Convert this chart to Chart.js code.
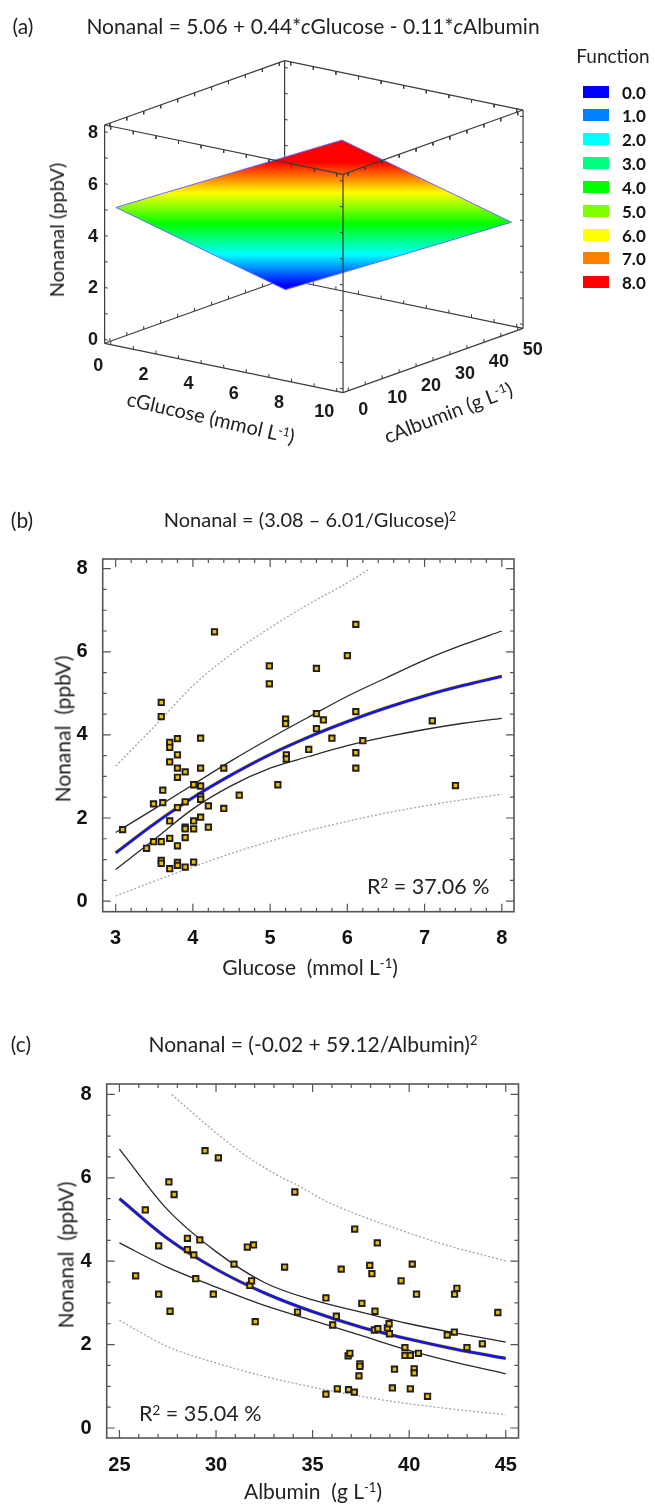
<!DOCTYPE html>
<html><head><meta charset="utf-8">
<script src="https://cdn.jsdelivr.net/npm/chart.js@4.4.1/dist/chart.umd.min.js"></script>
<style>
body{margin:0;background:#fff;width:655px;height:1504px;position:relative;overflow:hidden;font-family:Lato,'Open Sans',sans-serif;color:#222}
.t{position:absolute;white-space:nowrap;transform:translate(-50%,-50%);line-height:1}
.l{position:absolute;white-space:nowrap;transform:translate(0,-50%);line-height:1}
sup{font-size:0.62em;vertical-align:0.5em;line-height:0}
canvas{position:absolute;left:0}
.sw{position:absolute;left:583px;width:26px;height:12px;transform:translate(0,-50%)}
.lg{position:absolute;left:622px;font-weight:bold;font-size:17px;transform:translate(0,-50%);line-height:1;color:#111}
</style></head><body>
<canvas id="ca" width="655" height="480" style="top:0"></canvas>
<canvas id="cb" width="655" height="520" style="top:480px"></canvas>
<canvas id="cc" width="655" height="504" style="top:1000px"></canvas>

<div class="t" style="left:23px;top:25px;font-size:21px">(a)</div>
<div class="t" style="left:313px;top:25px;font-size:21px">Nonanal = 5.06 + 0.44*<i>c</i>Glucose - 0.11*<i>c</i>Albumin</div>
<div class="t" style="left:613px;top:55px;font-size:19px">Function</div>
<div id="legend"></div>
<div class="t" style="left:56px;top:230px;font-size:20px;transform:translate(-50%,-50%) rotate(-90deg)">Nonanal (ppbV)</div>
<div class="t" style="left:211px;top:417px;font-size:20px;transform:translate(-50%,-50%) rotate(13deg)">cGlucose (mmol L<sup>-1</sup>)</div>
<div class="t" style="left:448px;top:412px;font-size:20px;transform:translate(-50%,-50%) rotate(-21deg)">cAlbumin (g L<sup>-1</sup>)</div>

<div class="t" style="left:22px;top:519px;font-size:21px">(b)</div>
<div class="t" style="left:310px;top:519px;font-size:20px">Nonanal = (3.08 – 6.01/Glucose)<sup>2</sup></div>
<div class="t" style="left:62px;top:729px;font-size:21px;transform:translate(-50%,-50%) rotate(-90deg)">Nonanal&nbsp; (ppbV)</div>
<div class="t" style="left:310px;top:966px;font-size:21px">Glucose&nbsp; (mmol L<sup>-1</sup>)</div>
<div class="l" style="left:367px;top:887px;font-size:21.5px">R<sup>2</sup> = 37.06 %</div>

<div class="t" style="left:21px;top:1043px;font-size:21px">(c)</div>
<div class="t" style="left:313px;top:1043px;font-size:21px">Nonanal = (-0.02 + 59.12/Albumin)<sup>2</sup></div>
<div class="t" style="left:65px;top:1255px;font-size:21px;transform:translate(-50%,-50%) rotate(-90deg)">Nonanal&nbsp; (ppbV)</div>
<div class="t" style="left:313px;top:1490px;font-size:21px">Albumin&nbsp; (g L<sup>-1</sup>)</div>
<div class="l" style="left:139px;top:1414px;font-size:21.5px">R<sup>2</sup> = 35.04 %</div>

<script>
// ================= DATA =================
// (a) 3-D response surface
const legendValues = ['0.0','1.0','2.0','3.0','4.0','5.0','6.0','7.0','8.0'];
const legendLevels = [0,1,2,3,4,5,6,7,8];
const legendColors = ['#0000ff','#0080ff','#00ffff','#00ff80','#00ff00','#80ff00','#ffff00','#ff8000','#ff0000'];
const aGlucoseTicks = [0,2,4,6,8,10];
const aAlbuminTicks = [0,10,20,30,40,50];
const aNonanalTicks = [0,2,4,6,8];
const aGlucoseRange = [-0.27, 10.28];
const aAlbuminRange = [-1.55, 51.55];
const aNonanalRange = [-0.15, 8.26];
const surfaceGlucose = [0, 10, 10, 0];
const surfaceAlbumin = [0, 0, 50, 50];
const surfaceNonanal = [5.06, 9.46, 3.96, -0.44];

// (b) Glucose
const bGlucose = [3.09,3.40,3.49,3.49,3.59,3.59,3.61,3.61,3.59,3.59,3.59,3.70,3.70,3.70,3.70,3.70,3.70,3.80,3.80,3.80,3.80,3.80,3.80,3.80,3.80,3.90,3.90,3.90,3.90,3.90,3.90,4.01,4.01,4.01,4.01,4.10,4.10,4.10,4.10,4.10,4.10,4.20,4.20,4.28,4.40,4.40,4.60,4.99,4.99,5.10,5.20,5.20,5.21,5.21,5.50,5.60,5.60,5.60,5.69,5.80,6.00,6.11,6.11,6.11,6.11,6.20,7.10,7.40];
const bNonanal = [1.72,1.27,2.34,1.43,4.78,4.44,2.67,2.37,1.43,0.98,0.91,3.82,3.70,3.35,1.93,1.51,0.78,3.91,3.52,3.20,2.98,2.25,1.33,0.93,0.86,3.11,2.39,1.78,1.74,1.53,0.82,2.80,1.93,1.74,0.94,3.92,3.20,2.77,2.52,2.45,2.02,2.29,1.78,6.48,3.20,2.23,2.55,5.66,5.23,2.80,4.38,4.27,3.52,3.42,3.65,5.60,4.51,4.15,4.36,3.92,5.91,6.66,4.56,3.57,3.20,3.86,4.34,2.78];
const bCurveX   = [3.0,3.5,4.0,4.5,5.0,5.5,6.0,6.5,7.0,7.5,8.0];
const bFit      = [1.16,1.86,2.49,3.04,3.53,3.95,4.32,4.65,4.94,5.19,5.41];
const bUpperCI  = [1.65,2.22,2.80,3.38,3.92,4.43,4.93,5.37,5.80,6.17,6.50];
const bLowerCI  = [0.76,1.48,2.22,2.78,3.20,3.48,3.74,3.95,4.13,4.28,4.40];
const bLowerPI  = [0.12,0.48,0.82,1.15,1.44,1.70,1.92,2.12,2.29,2.44,2.57];
const bUpperPIX = [3.0,3.5,4.0,4.5,5.0,5.5,6.0,6.29];
const bUpperPI  = [3.25,4.20,5.18,5.95,6.58,7.15,7.66,8.0];
const bXTicks = [3,4,5,6,7,8];
const nonanalTicks = [0,2,4,6,8];

// (c) Albumin
const cAlbumin = [25.84,26.34,27.03,27.03,27.56,27.62,27.83,28.52,28.52,28.85,28.95,29.16,29.43,29.86,30.12,30.93,31.62,31.75,31.84,31.94,32.03,33.55,34.08,34.22,35.69,35.69,36.04,36.23,36.28,36.48,36.84,36.93,36.86,37.18,37.16,37.40,37.45,37.45,37.55,37.96,38.07,38.20,38.23,38.35,38.38,38.87,38.96,38.98,39.13,39.24,39.58,39.78,39.78,40.06,40.06,40.16,40.26,40.26,40.38,40.48,40.95,41.97,42.35,42.34,42.47,42.99,43.79,44.59];
const cNonanal = [3.65,5.23,4.37,3.21,5.90,2.80,5.60,4.55,4.28,4.15,3.58,4.51,6.65,3.21,6.48,3.93,4.34,3.42,3.53,4.39,2.55,3.86,5.66,2.78,3.12,0.81,2.47,2.68,0.94,3.81,1.73,1.79,0.92,4.77,0.86,1.25,1.54,1.48,2.99,3.90,3.70,2.35,2.80,4.44,2.38,2.40,2.50,2.26,0.96,1.41,3.53,1.93,1.74,1.74,0.94,3.93,1.42,1.32,3.21,1.79,0.76,2.23,3.21,2.30,3.35,1.93,2.02,2.77];
const cCurveX   = [25,27.5,30,32.5,35,37.5,40,42.5,45];
const cFit      = [5.50,4.54,3.81,3.24,2.79,2.42,2.13,1.88,1.67];
const cUpperCI  = [6.69,5.23,4.23,3.49,3.07,2.78,2.50,2.27,2.06];
const cLowerCI  = [4.44,3.85,3.38,2.94,2.58,2.22,1.86,1.56,1.30];
const cLowerPI  = [2.58,1.95,1.56,1.24,0.98,0.76,0.58,0.44,0.32];
const cUpperPIX = [27.71,29.43,31.24,33.14,34.35,35.55,36.94,39.52,42.11,45.0];
const cUpperPI  = [8.0,7.30,6.63,6.07,5.79,5.47,5.19,4.75,4.36,4.01];
const cXTicks = [25,30,35,40,45];

// ================= LEGEND (a) =================
const lgEl = document.getElementById('legend');
legendValues.forEach((v,i)=>{
  const y = 91.5 + i*23.85;
  lgEl.insertAdjacentHTML('beforeend',
    `<div class="sw" style="top:${y}px;background:${legendColors[i]}"></div><div class="lg" style="top:${y}px">${v}</div>`);
});

const pts = (xs, ys) => xs.map((x,i)=>({x:x, y:ys[i]}));

// ================= PANEL (a) 3-D =================
const V = {ox:115.95, oy:338.8, gx:22.6, gy:4.68, ax:3.39, ay:-1.211, zy:-25.96, W:655, H:480};
function P(g,a,z){ return {x: g*V.gx + a*V.ax, y: -(g*V.gy + a*V.ay + z*V.zy)}; }
const G0=aGlucoseRange[0], G1=aGlucoseRange[1], A0=aAlbuminRange[0], A1=aAlbuminRange[1], Z0=aNonanalRange[0], Z1=aNonanalRange[1];
const edge = (p,q)=>[P(...p),P(...q)];
const backEdges = [
  edge([G0,A0,Z1],[G0,A1,Z1]), edge([G0,A1,Z1],[G1,A1,Z1]), edge([G0,A1,Z0],[G0,A1,Z1]),
  edge([G0,A0,Z0],[G0,A1,Z0]), edge([G0,A1,Z0],[G1,A1,Z0])
];
const frontEdges = [
  edge([G0,A0,Z1],[G1,A0,Z1]), edge([G1,A0,Z1],[G1,A1,Z1]),
  edge([G0,A0,Z0],[G0,A0,Z1]), edge([G1,A0,Z0],[G1,A0,Z1]), edge([G1,A1,Z0],[G1,A1,Z1]),
  edge([G0,A0,Z0],[G1,A0,Z0]), edge([G1,A0,Z0],[G1,A1,Z0])
];
function tickSegs(list){
  const out=[];
  list.forEach(([p,q])=>{ out.push(P(...p)); out.push(P(...q)); out.push({x:null,y:null}); });
  return out;
}
const tz=0.13, tg=0.14;
const backT=[], frontT=[];
for(let g=0; g<=10; g++){
  backT.push([[g,A1,Z1],[g,A1,Z1-tz]]); backT.push([[g,A1,Z0],[g,A1,Z0+tz]]);
  frontT.push([[g,A0,Z1],[g,A0,Z1-tz]]); frontT.push([[g,A0,Z0],[g,A0,Z0+tz]]);
}
for(let a=0; a<=50; a+=5){
  backT.push([[G0,a,Z1],[G0,a,Z1-tz]]); backT.push([[G0,a,Z0],[G0,a,Z0+tz]]);
  frontT.push([[G1,a,Z1],[G1,a,Z1-tz]]); frontT.push([[G1,a,Z0],[G1,a,Z0+tz]]);
}
for(let z=0; z<=8; z++){
  backT.push([[G0,A1,z],[G0+tg,A1,z]]);
  frontT.push([[G0,A0,z],[G0+tg,A0,z]]); frontT.push([[G1,A0,z],[G1-tg,A0,z]]); frontT.push([[G1,A1,z],[G1-tg,A1,z]]);
}
const surfPts = surfaceGlucose.map((g,i)=>P(g, surfaceAlbumin[i], surfaceNonanal[i]));
surfPts.push(surfPts[0]);

const lineDs = (data, color, width, order) => ({data, showLine:true, pointRadius:0, borderColor:color, borderWidth:width, order, tension:0, spanGaps:false});
const dsA = [];
frontEdges.forEach(e=>dsA.push(lineDs(e,'#3c3c3c',1.2,0)));
dsA.push(lineDs(tickSegs(frontT),'#3c3c3c',1,0));
const surfDs = lineDs(surfPts,'#6a6aff',1,1); surfDs.isSurface = true; dsA.push(surfDs);
backEdges.forEach(e=>dsA.push(lineDs(e,'#3c3c3c',1.2,2)));
dsA.push(lineDs(tickSegs(backT),'#3c3c3c',1,2));

const surfacePlugin = {
  id:'surfaceFill',
  beforeDatasetDraw(chart, args){
    const ds = chart.data.datasets[args.index];
    if(!ds.isSurface) return;
    const pts = args.meta.data, c = chart.ctx;
    const yL = pts[0].y, yT = pts[1].y, zL = surfaceNonanal[0], zT = surfaceNonanal[1];
    const yOf = z => yL + (z - zL)*(yT - yL)/(zT - zL);
    const lo = legendLevels[0], hi = legendLevels[legendLevels.length-1];
    const grad = c.createLinearGradient(0, yOf(lo), 0, yOf(hi));
    legendColors.forEach((col,i)=>grad.addColorStop((legendLevels[i]-lo)/(hi-lo), col));
    c.save();
    c.beginPath();
    c.moveTo(pts[0].x, pts[0].y);
    for(let i=1;i<pts.length;i++) c.lineTo(pts[i].x, pts[i].y);
    c.closePath();
    c.fillStyle = grad; c.fill();
    c.restore();
  }
};
const labels3D = {
  id:'labels3D',
  afterDatasetsDraw(chart){
    const c = chart.ctx, sx = chart.scales.x, sy = chart.scales.y;
    const px = p => [sx.getPixelForValue(p.x), sy.getPixelForValue(p.y)];
    c.save();
    c.font = 'bold 18px "Liberation Sans", Arial, sans-serif';
    c.fillStyle = '#1a1a1a'; c.textAlign='center'; c.textBaseline='middle';
    aNonanalTicks.forEach(z=>{ const [x,y]=px(P(G0,A0,z)); c.fillText(String(z), x-11.5, y+1); });
    aGlucoseTicks.forEach(g=>{ const [x,y]=px(P(g,A0,Z0)); c.fillText(String(g), x-12.5, y+21); });
    aAlbuminTicks.forEach(a=>{ const [x,y]=px(P(G1,a,Z0)); c.fillText(String(a), x+15, y+19.5); });
    c.restore();
  }
};
new Chart(document.getElementById('ca'), {
  type:'scatter',
  data:{datasets:dsA},
  options:{responsive:false, animation:false, events:[],
    layout:{padding:0},
    plugins:{legend:{display:false}, tooltip:{enabled:false}},
    scales:{
      x:{type:'linear', display:false, min:-V.ox, max:V.W-V.ox},
      y:{type:'linear', display:false, min:V.oy-V.H, max:V.oy}
    }
  },
  plugins:[surfacePlugin, labels3D]
});

// ================= PANELS (b) & (c) =================
const framePlugin = {
  id:'frameTicks',
  afterDatasetsDraw(chart, args, o){
    const c = chart.ctx, a = chart.chartArea, sx = chart.scales.x, sy = chart.scales.y;
    c.save();
    c.strokeStyle = '#555'; c.lineWidth = 1.2;
    const tick = (v, len, isX) => {
      if(isX){ const x = sx.getPixelForValue(v);
        c.moveTo(x, a.bottom); c.lineTo(x, a.bottom-len); c.moveTo(x, a.top); c.lineTo(x, a.top+len); }
      else { const y = sy.getPixelForValue(v);
        c.moveTo(a.left, y); c.lineTo(a.left+len, y); c.moveTo(a.right, y); c.lineTo(a.right-len, y); }
    };
    c.beginPath();
    for(let v=o.xFrom; v<=o.xTo+1e-9; v+=o.xMinor){ const r=Math.round(v*1000)/1000; tick(r, o.xMajors.includes(r)?8:4, true); }
    for(let v=o.yFrom; v<=o.yTo+1e-9; v+=o.yMinor){ const r=Math.round(v*1000)/1000; tick(r, o.yMajors.includes(r)?8:4, false); }
    c.stroke();
    c.strokeStyle = '#555'; c.lineWidth = 1.6;
    c.strokeRect(a.left, a.top, a.right-a.left, a.bottom-a.top);
    c.restore();
  }
};
function panel2D(id, d){
  const tickFont = {family:'"Liberation Sans", Arial, sans-serif', weight:'bold', size:20};
  new Chart(document.getElementById(id), {
    type:'scatter',
    data:{datasets:[
      {data:pts(d.px,d.py), pointStyle:'rect', pointRadius:3.8, borderWidth:1.9, borderColor:'#1e1e1e', backgroundColor:'#f0be00', order:0},
      {data:pts(d.cx,d.fit), showLine:true, pointRadius:0, borderColor:'#1414ee', borderWidth:2.8, cubicInterpolationMode:'monotone', order:1},
      {data:pts(d.cx,d.fit), showLine:true, pointRadius:0, borderColor:'#e9d200', borderWidth:3.8, cubicInterpolationMode:'monotone', order:2},
      {data:pts(d.cx,d.ucl), showLine:true, pointRadius:0, borderColor:'#2a2a2a', borderWidth:1.3, cubicInterpolationMode:'monotone', order:3},
      {data:pts(d.cx,d.lcl), showLine:true, pointRadius:0, borderColor:'#2a2a2a', borderWidth:1.3, cubicInterpolationMode:'monotone', order:3},
      {data:pts(d.upx,d.upl), showLine:true, pointRadius:0, borderColor:'#a5a5a5', borderWidth:1.3, borderDash:[2,2], cubicInterpolationMode:'monotone', order:4},
      {data:pts(d.cx,d.lpl), showLine:true, pointRadius:0, borderColor:'#a5a5a5', borderWidth:1.3, borderDash:[2,2], cubicInterpolationMode:'monotone', order:4}
    ]},
    options:{responsive:false, animation:false, events:[],
      layout:{padding:{left:0, right:d.padR, top:d.padT, bottom:d.padB}},
      plugins:{legend:{display:false}, tooltip:{enabled:false}, frameTicks:d.frame},
      scales:{
        x:{type:'linear', min:d.xmin, max:d.xmax, grid:{display:false}, border:{display:false},
          afterBuildTicks:s=>{ s.ticks = d.xTicks.map(v=>({value:v})); },
          ticks:{font:tickFont, color:'#111', padding:7, maxRotation:0, autoSkip:false},
          afterFit:s=>{ s.height = 60; }},
        y:{type:'linear', min:d.ymin, max:d.ymax, grid:{display:false}, border:{display:false},
          afterBuildTicks:s=>{ s.ticks = nonanalTicks.map(v=>({value:v})); },
          ticks:{font:tickFont, color:'#111', padding:7, autoSkip:false},
          afterFit:s=>{ s.width = d.left; }}
      }
    },
    plugins:[framePlugin]
  });
}
panel2D('cb', {px:bGlucose, py:bNonanal, cx:bCurveX, fit:bFit, ucl:bUpperCI, lcl:bLowerCI, upx:bUpperPIX, upl:bUpperPI, lpl:bLowerPI,
  xTicks:bXTicks, xmin:2.832, xmax:8.158, ymin:-0.255, ymax:8.233, left:102.7, padR:141, padT:79, padB:28.3,
  frame:{xFrom:3, xTo:8, xMinor:0.2, xMajors:bXTicks, yFrom:0, yTo:8, yMinor:0.5, yMajors:nonanalTicks}});
panel2D('cc', {px:cAlbumin, py:cNonanal, cx:cCurveX, fit:cFit, ucl:cUpperCI, lcl:cLowerCI, upx:cUpperPIX, upl:cUpperPI, lpl:cLowerPI,
  xTicks:cXTicks, xmin:24.34, xmax:45.66, ymin:-0.24, ymax:8.25, left:106.7, padR:136.5, padT:84, padB:6,
  frame:{xFrom:25, xTo:45, xMinor:1, xMajors:cXTicks, yFrom:0, yTo:8, yMinor:0.5, yMajors:nonanalTicks}});
</script>
</body></html>
